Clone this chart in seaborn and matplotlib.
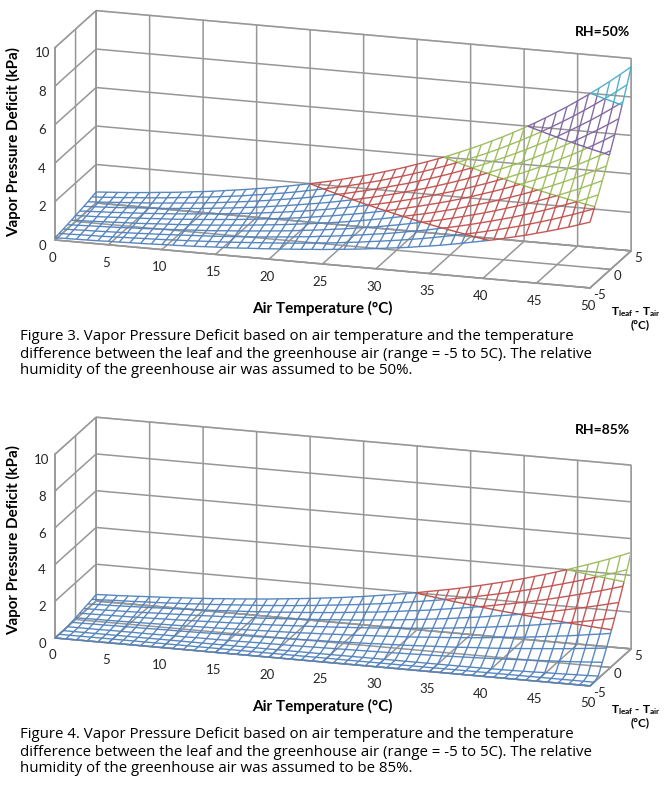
#!/usr/bin/env python
"""
Vapor pressure deficit wireframes for two greenhouse humidities.
Recreates the two Excel-style 3D surface charts (RH = 50% and RH = 85%)
with their figure captions and saves them to out.png.
"""

# --- Imports

import numpy as np
import seaborn as sns
import matplotlib
matplotlib.use('Agg')
import matplotlib.pyplot as plt
from mpl_toolkits.mplot3d import proj3d
from mpl_toolkits.mplot3d.art3d import Line3DCollection

# --- Data (VPD in kPa, one row per Tleaf - Tair step, one column per air temp)

air_temp = list(range(0, 51))
leaf_minus_air = [-5, -4, -3, -2, -1, 0, 1, 2, 3, 4, 5]

vpd_rh50 = [
    [0.12, 0.13, 0.14, 0.15, 0.16, 0.18, 0.19, 0.21, 0.22, 0.24,
     0.26, 0.28, 0.30, 0.32, 0.35, 0.38, 0.40, 0.43, 0.47, 0.50,
     0.54, 0.58, 0.62, 0.66, 0.71, 0.75, 0.81, 0.86, 0.92, 0.98,
     1.05, 1.12, 1.19, 1.26, 1.35, 1.43, 1.52, 1.62, 1.72, 1.83,
     1.94, 2.05, 2.18, 2.31, 2.44, 2.59, 2.74, 2.90, 3.06, 3.24, 3.42],
    [0.15, 0.16, 0.18, 0.19, 0.20, 0.22, 0.24, 0.26, 0.28, 0.30,
     0.32, 0.35, 0.37, 0.40, 0.43, 0.46, 0.49, 0.53, 0.57, 0.61,
     0.65, 0.69, 0.74, 0.79, 0.85, 0.90, 0.96, 1.03, 1.09, 1.17,
     1.24, 1.32, 1.40, 1.49, 1.58, 1.68, 1.79, 1.89, 2.01, 2.13,
     2.26, 2.39, 2.53, 2.67, 2.83, 2.99, 3.16, 3.34, 3.52, 3.72, 3.92],
    [0.18, 0.20, 0.22, 0.23, 0.25, 0.27, 0.29, 0.31, 0.34, 0.36,
     0.39, 0.42, 0.45, 0.48, 0.51, 0.55, 0.59, 0.63, 0.67, 0.72,
     0.77, 0.82, 0.88, 0.93, 1.00, 1.06, 1.13, 1.20, 1.28, 1.36,
     1.44, 1.53, 1.63, 1.73, 1.83, 1.95, 2.06, 2.18, 2.31, 2.45,
     2.59, 2.74, 2.89, 3.06, 3.23, 3.41, 3.60, 3.80, 4.00, 4.22, 4.45],
    [0.22, 0.24, 0.26, 0.28, 0.30, 0.32, 0.35, 0.37, 0.40, 0.43,
     0.46, 0.49, 0.53, 0.56, 0.60, 0.65, 0.69, 0.74, 0.79, 0.84,
     0.89, 0.95, 1.02, 1.08, 1.15, 1.23, 1.30, 1.39, 1.47, 1.56,
     1.66, 1.76, 1.87, 1.98, 2.10, 2.22, 2.35, 2.49, 2.63, 2.78,
     2.94, 3.11, 3.28, 3.46, 3.65, 3.85, 4.06, 4.28, 4.51, 4.75, 5.00],
    [0.26, 0.28, 0.30, 0.33, 0.35, 0.38, 0.40, 0.43, 0.47, 0.50,
     0.53, 0.57, 0.61, 0.65, 0.70, 0.75, 0.80, 0.85, 0.91, 0.97,
     1.03, 1.10, 1.17, 1.24, 1.32, 1.40, 1.49, 1.58, 1.68, 1.78,
     1.89, 2.00, 2.12, 2.24, 2.37, 2.51, 2.65, 2.81, 2.97, 3.13,
     3.31, 3.49, 3.68, 3.88, 4.09, 4.31, 4.54, 4.78, 5.03, 5.30, 5.57],
    [0.31, 0.33, 0.35, 0.38, 0.41, 0.44, 0.47, 0.50, 0.54, 0.57,
     0.61, 0.66, 0.70, 0.75, 0.80, 0.85, 0.91, 0.97, 1.03, 1.10,
     1.17, 1.24, 1.32, 1.41, 1.49, 1.59, 1.68, 1.78, 1.89, 2.00,
     2.12, 2.25, 2.38, 2.52, 2.66, 2.81, 2.97, 3.14, 3.32, 3.50,
     3.69, 3.89, 4.10, 4.32, 4.55, 4.80, 5.05, 5.31, 5.59, 5.87, 6.17],
    [0.35, 0.38, 0.41, 0.43, 0.47, 0.50, 0.53, 0.57, 0.61, 0.65,
     0.70, 0.75, 0.80, 0.85, 0.91, 0.97, 1.03, 1.10, 1.17, 1.24,
     1.32, 1.40, 1.49, 1.58, 1.68, 1.78, 1.89, 2.00, 2.12, 2.24,
     2.37, 2.51, 2.66, 2.81, 2.97, 3.13, 3.31, 3.49, 3.68, 3.88,
     4.09, 4.31, 4.54, 4.78, 5.04, 5.30, 5.57, 5.86, 6.16, 6.47, 6.80],
    [0.40, 0.43, 0.46, 0.49, 0.53, 0.57, 0.61, 0.65, 0.69, 0.74,
     0.79, 0.84, 0.90, 0.96, 1.02, 1.09, 1.15, 1.23, 1.31, 1.39,
     1.48, 1.57, 1.66, 1.76, 1.87, 1.98, 2.10, 2.22, 2.36, 2.49,
     2.64, 2.79, 2.94, 3.11, 3.29, 3.47, 3.66, 3.86, 4.07, 4.29,
     4.52, 4.75, 5.00, 5.27, 5.54, 5.83, 6.12, 6.44, 6.76, 7.10, 7.45],
    [0.45, 0.48, 0.52, 0.56, 0.60, 0.64, 0.68, 0.73, 0.78, 0.83,
     0.88, 0.94, 1.00, 1.07, 1.14, 1.21, 1.29, 1.37, 1.46, 1.55,
     1.64, 1.74, 1.85, 1.96, 2.07, 2.20, 2.33, 2.46, 2.61, 2.76,
     2.91, 3.08, 3.25, 3.43, 3.62, 3.82, 4.02, 4.24, 4.47, 4.71,
     4.96, 5.22, 5.49, 5.77, 6.07, 6.38, 6.70, 7.03, 7.38, 7.75, 8.13],
    [0.51, 0.54, 0.58, 0.62, 0.67, 0.71, 0.76, 0.81, 0.87, 0.92,
     0.99, 1.05, 1.12, 1.19, 1.26, 1.35, 1.43, 1.52, 1.61, 1.71,
     1.82, 1.93, 2.04, 2.16, 2.29, 2.42, 2.56, 2.71, 2.87, 3.03,
     3.20, 3.38, 3.57, 3.76, 3.97, 4.18, 4.41, 4.64, 4.89, 5.15,
     5.42, 5.70, 5.99, 6.30, 6.62, 6.95, 7.30, 7.66, 8.03, 8.42, 8.83],
    [0.57, 0.61, 0.65, 0.69, 0.74, 0.79, 0.85, 0.90, 0.96, 1.03,
     1.09, 1.16, 1.24, 1.32, 1.40, 1.49, 1.58, 1.68, 1.78, 1.89,
     2.00, 2.12, 2.24, 2.38, 2.52, 2.66, 2.81, 2.98, 3.14, 3.32,
     3.51, 3.70, 3.90, 4.11, 4.34, 4.57, 4.81, 5.07, 5.33, 5.61,
     5.90, 6.20, 6.52, 6.85, 7.19, 7.55, 7.92, 8.31, 8.71, 9.13, 9.57],
]

vpd_rh85 = [
    [0.00, 0.00, 0.00, 0.00, 0.00, 0.00, 0.00, 0.00, 0.00, 0.00,
     0.00, 0.00, 0.00, 0.00, 0.00, 0.00, 0.00, 0.00, 0.00, 0.00,
     0.00, 0.00, 0.00, 0.00, 0.00, 0.00, 0.00, 0.00, 0.00, 0.00,
     0.00, 0.00, 0.00, 0.00, 0.00, 0.00, 0.00, 0.00, 0.00, 0.00,
     0.00, 0.00, 0.00, 0.00, 0.00, 0.00, 0.00, 0.00, 0.00, 0.00, 0.00],
    [0.00, 0.00, 0.00, 0.00, 0.00, 0.00, 0.00, 0.00, 0.00, 0.00,
     0.00, 0.00, 0.00, 0.00, 0.00, 0.00, 0.00, 0.00, 0.00, 0.00,
     0.00, 0.00, 0.00, 0.00, 0.00, 0.00, 0.00, 0.00, 0.00, 0.00,
     0.00, 0.00, 0.00, 0.00, 0.00, 0.00, 0.00, 0.00, 0.00, 0.00,
     0.00, 0.00, 0.00, 0.00, 0.00, 0.00, 0.00, 0.00, 0.00, 0.00, 0.00],
    [0.00, 0.00, 0.00, 0.00, 0.00, 0.00, 0.00, 0.00, 0.00, 0.00,
     0.00, 0.00, 0.00, 0.00, 0.00, 0.00, 0.00, 0.00, 0.00, 0.00,
     0.00, 0.00, 0.00, 0.00, 0.00, 0.00, 0.00, 0.00, 0.00, 0.00,
     0.00, 0.00, 0.00, 0.00, 0.00, 0.00, 0.00, 0.00, 0.00, 0.00,
     0.01, 0.01, 0.02, 0.03, 0.04, 0.06, 0.07, 0.08, 0.10, 0.11, 0.13],
    [0.01, 0.01, 0.01, 0.01, 0.02, 0.02, 0.02, 0.02, 0.02, 0.03,
     0.03, 0.03, 0.04, 0.04, 0.04, 0.05, 0.05, 0.06, 0.07, 0.07,
     0.08, 0.08, 0.09, 0.10, 0.11, 0.12, 0.13, 0.14, 0.15, 0.16,
     0.17, 0.19, 0.20, 0.22, 0.23, 0.25, 0.27, 0.29, 0.31, 0.33,
     0.36, 0.38, 0.41, 0.44, 0.47, 0.50, 0.53, 0.56, 0.60, 0.64, 0.68],
    [0.05, 0.05, 0.06, 0.06, 0.07, 0.07, 0.08, 0.08, 0.09, 0.10,
     0.10, 0.11, 0.12, 0.13, 0.14, 0.15, 0.16, 0.17, 0.18, 0.20,
     0.21, 0.22, 0.24, 0.26, 0.27, 0.29, 0.31, 0.33, 0.35, 0.38,
     0.40, 0.42, 0.45, 0.48, 0.51, 0.54, 0.57, 0.61, 0.65, 0.68,
     0.72, 0.77, 0.81, 0.86, 0.91, 0.96, 1.01, 1.07, 1.13, 1.19, 1.25],
    [0.09, 0.10, 0.11, 0.11, 0.12, 0.13, 0.14, 0.15, 0.16, 0.17,
     0.18, 0.20, 0.21, 0.22, 0.24, 0.26, 0.27, 0.29, 0.31, 0.33,
     0.35, 0.37, 0.40, 0.42, 0.45, 0.48, 0.50, 0.54, 0.57, 0.60,
     0.64, 0.67, 0.71, 0.76, 0.80, 0.84, 0.89, 0.94, 0.99, 1.05,
     1.11, 1.17, 1.23, 1.30, 1.37, 1.44, 1.51, 1.59, 1.68, 1.76, 1.85],
    [0.14, 0.15, 0.16, 0.17, 0.18, 0.19, 0.21, 0.22, 0.24, 0.25,
     0.27, 0.29, 0.31, 0.33, 0.35, 0.37, 0.39, 0.42, 0.44, 0.47,
     0.50, 0.53, 0.56, 0.60, 0.63, 0.67, 0.71, 0.75, 0.79, 0.84,
     0.89, 0.94, 0.99, 1.04, 1.10, 1.16, 1.23, 1.29, 1.36, 1.44,
     1.51, 1.59, 1.67, 1.76, 1.85, 1.94, 2.04, 2.14, 2.25, 2.36, 2.48],
    [0.19, 0.20, 0.21, 0.23, 0.24, 0.26, 0.28, 0.30, 0.32, 0.34,
     0.36, 0.38, 0.41, 0.43, 0.46, 0.49, 0.52, 0.55, 0.59, 0.62,
     0.66, 0.70, 0.74, 0.78, 0.83, 0.87, 0.92, 0.98, 1.03, 1.09,
     1.15, 1.21, 1.28, 1.35, 1.42, 1.50, 1.58, 1.66, 1.75, 1.84,
     1.93, 2.03, 2.13, 2.24, 2.35, 2.47, 2.59, 2.72, 2.85, 2.99, 3.13],
    [0.24, 0.26, 0.27, 0.29, 0.31, 0.33, 0.35, 0.38, 0.40, 0.43,
     0.45, 0.48, 0.51, 0.55, 0.58, 0.61, 0.65, 0.69, 0.73, 0.78,
     0.82, 0.87, 0.92, 0.97, 1.03, 1.09, 1.15, 1.21, 1.28, 1.35,
     1.43, 1.50, 1.58, 1.67, 1.76, 1.85, 1.94, 2.04, 2.15, 2.26,
     2.37, 2.49, 2.61, 2.74, 2.88, 3.02, 3.17, 3.32, 3.47, 3.64, 3.81],
    [0.29, 0.31, 0.34, 0.36, 0.38, 0.41, 0.43, 0.46, 0.49, 0.52,
     0.56, 0.59, 0.63, 0.67, 0.71, 0.75, 0.79, 0.84, 0.89, 0.94,
     1.00, 1.05, 1.12, 1.18, 1.25, 1.31, 1.39, 1.46, 1.54, 1.63,
     1.72, 1.81, 1.90, 2.00, 2.11, 2.21, 2.33, 2.45, 2.57, 2.70,
     2.83, 2.97, 3.12, 3.27, 3.43, 3.59, 3.76, 3.94, 4.12, 4.31, 4.51],
    [0.35, 0.38, 0.40, 0.43, 0.46, 0.49, 0.52, 0.55, 0.59, 0.62,
     0.66, 0.70, 0.75, 0.79, 0.84, 0.89, 0.94, 1.00, 1.06, 1.12,
     1.18, 1.25, 1.32, 1.39, 1.47, 1.55, 1.64, 1.73, 1.82, 1.92,
     2.02, 2.13, 2.24, 2.35, 2.47, 2.60, 2.73, 2.87, 3.01, 3.16,
     3.31, 3.48, 3.64, 3.82, 4.00, 4.19, 4.39, 4.59, 4.80, 5.02, 5.25],
]

x_ticks = [0, 5, 10, 15, 20, 25, 30, 35, 40, 45, 50]
y_ticks = [-5, 0, 5]
y_tick_labels = ['-5', '0', '5']
z_ticks = [0, 2, 4, 6, 8, 10]
band_edges = [0, 2, 4, 6, 8, 10]
band_colors = ['#4F81BD', '#C0504D', '#9BBB59', '#8064A2', '#4BACC6']

captions = {
    'top': ["Figure 3. Vapor Pressure Deficit based on air temperature and the temperature",
            "difference between the leaf and the greenhouse air (range = -5 to 5C). The relative",
            "humidity of the greenhouse air was assumed to be 50%."],
    'bottom': ["Figure 4. Vapor Pressure Deficit based on air temperature and the temperature",
               "difference between the leaf and the greenhouse air (range = -5 to 5C). The relative",
               "humidity of the greenhouse air was assumed to be 85%."],
}

GRID = '#979797'
TEXT = '#262626'
FIG_W, FIG_H = 671, 800

# --- Helper functions

def split_segment(p, q):
    """
    Cut one mesh segment where it crosses a colour band edge.

    Return values
    -------------
    List of (segment, band index) pairs.
    """
    z0, z1 = p[2], q[2]
    cuts = [0.0, 1.0]
    for lv in band_edges[1:-1]:
        if (z0 - lv) * (z1 - lv) < 0:
            cuts.append((lv - z0) / (z1 - z0))
    cuts.sort()
    out = []
    for a, b in zip(cuts[:-1], cuts[1:]):
        pa = p + a * (q - p)
        pb = p + b * (q - p)
        band = min(int(((pa[2] + pb[2]) / 2) // 2), len(band_colors) - 1)
        out.append(([pa, pb], band))
    return out


def draw_mesh(ax, z_rows):
    """
    Draw the wireframe surface, coloured by 2 kPa bands like Excel does.
    """
    X, Y = np.meshgrid(air_temp, leaf_minus_air)
    Z = np.array(z_rows, dtype=float)
    pts = np.dstack([X, Y, Z]).astype(float)
    n_rows, n_cols = Z.shape

    pairs = []
    for i in range(n_rows):
        for j in range(n_cols - 1):
            pairs.append((pts[i, j], pts[i, j + 1]))
    for j in range(n_cols):
        for i in range(n_rows - 1):
            pairs.append((pts[i, j], pts[i + 1, j]))

    segs = {k: [] for k in range(len(band_colors))}
    for p, q in pairs:
        for seg, band in split_segment(p, q):
            segs[band].append(seg)

    for band, s in segs.items():
        if s:
            ax.add_collection3d(Line3DCollection(
                s, colors=band_colors[band], linewidths=1.0, alpha=0.95))

    levels = [lv for lv in band_edges[1:-1] if Z.max() > lv]
    if levels:
        ax.contour(X, Y, Z, levels=levels,
                   colors=band_colors[1:len(levels) + 1], linewidths=1.0)


def style_axes(ax, aspect):
    """
    Excel-like 3D box: white walls, grey grid, ortho view.
    """
    ax.set_facecolor((1, 1, 1, 0))
    ax.set_proj_type('ortho')
    ax.view_init(elev=16.5, azim=-72.5)
    ax.set_box_aspect(aspect)
    ax.set_xlim(0, 50)
    ax.set_ylim(-5, 5)
    ax.set_zlim(0, 10)
    ax.set_xticks(x_ticks)
    ax.set_yticks(y_ticks)
    ax.set_zticks(z_ticks)
    ax.zaxis.set_ticks_position('lower')
    ax.zaxis.set_label_position('lower')
    ax.grid(True)
    for axis in (ax.xaxis, ax.yaxis, ax.zaxis):
        axis.pane.set_facecolor('white')
        axis.pane.set_edgecolor(GRID)
        axis.pane.set_linewidth(1.1)
        axis.line.set_color(GRID)
        axis.line.set_linewidth(1.1)
        axis._axinfo['grid'].update(color=GRID, linewidth=1.1, linestyle='-')
        axis._axinfo['tick'].update(inward_factor=0.0, outward_factor=0.3)
        axis._axinfo['tick']['linewidth'] = {True: 1.1, False: 0.5}
    ax.xaxis.set_tick_params(labelsize=9.5, labelcolor=TEXT, color=GRID, pad=3.5)
    ax.yaxis.set_ticklabels([])
    ax.yaxis.set_tick_params(color=GRID)
    ax.zaxis.set_tick_params(labelsize=9.5, labelcolor=TEXT, color=GRID, pad=-3)


def project_px(ax, pt):
    """
    Pixel position (origin bottom-left) of a 3D data point.
    """
    x2, y2, _ = proj3d.proj_transform(pt[0], pt[1], pt[2], ax.get_proj())
    return np.array(ax.transData.transform((x2, y2)))


def fit_box(fig, ax, tgt_a, tgt_b):
    """
    Move/scale the square 3D axes so the front floor edge lands on the
    pixel positions taken from the reference picture.
    """
    fig.canvas.draw()
    pa = project_px(ax, (0, -5, 0))
    pb = project_px(ax, (50, -5, 0))
    ta = np.array([tgt_a[0], FIG_H - tgt_a[1]], dtype=float)
    tb = np.array([tgt_b[0], FIG_H - tgt_b[1]], dtype=float)
    s = np.linalg.norm(tb - ta) / np.linalg.norm(pb - pa)

    bb = ax.get_position().transformed(fig.transFigure)
    c = np.array([(bb.x0 + bb.x1) / 2, (bb.y0 + bb.y1) / 2])
    side = bb.width * s
    c_new = ta - s * (pa - c)
    ax.set_position([(c_new[0] - side / 2) / FIG_W, (c_new[1] - side / 2) / FIG_H,
                     side / FIG_W, side / FIG_H])


def depth_tick_labels(fig, ax):
    """
    Tleaf - Tair numbers just right of the right floor edge, as in Excel.
    """
    fig.canvas.draw()
    for yv, lab in zip(y_ticks, y_tick_labels):
        p = project_px(ax, (50.3, yv, -0.35))
        fig.text(p[0] / FIG_W, p[1] / FIG_H, lab, ha='left', va='center',
                 fontsize=9.5, color=TEXT)


def add_texts(fig, dy, rh_label, caption):
    """
    Axis titles, RH tag and caption placed in figure pixels (dy = panel shift).
    """
    def fy(y):
        return 1 - (y + dy) / FIG_H

    fig.text(14 / FIG_W, fy(142), 'Vapor Pressure Deficit (kPa)', rotation=90,
             ha='center', va='center', fontsize=10.9, fontweight='bold', color='black')
    fig.text(322 / FIG_W, fy(308), 'Air Temperature (°C)',
             ha='center', va='center', fontsize=11, fontweight='bold', color='black')
    fig.text(630 / FIG_W, fy(32), rh_label,
             ha='right', va='center', fontsize=10, fontweight='bold', color='black')
    fig.text(636 / FIG_W, fy(312), r'$\mathbf{T_{leaf}}$ - $\mathbf{T_{air}}$',
             ha='center', va='center', fontsize=8.5, fontweight='bold', color='black')
    fig.text(640 / FIG_W, fy(325), '(°C)',
             ha='center', va='center', fontsize=8.5, fontweight='bold', color='black')
    for k, line in enumerate(caption):
        fig.text(20 / FIG_W, fy(337 + 17 * k), line, ha='left', va='center',
                 fontsize=10.8, family=['Open Sans', 'DejaVu Sans'], color='black')

# --- Main program

def main():
    """
    Main program.
    """
    sns.set_theme(style='white')
    plt.rcParams['font.family'] = ['Lato', 'DejaVu Sans']
    plt.rcParams['mathtext.fontset'] = 'custom'
    plt.rcParams['mathtext.bf'] = 'Lato:bold'
    plt.rcParams['mathtext.rm'] = 'Lato'

    fig = plt.figure(figsize=(FIG_W / 100, FIG_H / 100), dpi=100)
    fig.patch.set_facecolor('white')

    panels = [
        (vpd_rh50, 0, 'RH=50%', captions['top'], (562, 137, 201)),
        (vpd_rh85, 398, 'RH=85%', captions['bottom'], (562, 137, 192)),
    ]

    for z_rows, dy, rh_label, caption, aspect in panels:
        ax = fig.add_axes([0.05, 0.05, 0.9, 0.9], projection='3d')
        style_axes(ax, aspect)
        draw_mesh(ax, z_rows)
        fit_box(fig, ax, (55, 240 + dy), (590, 288 + dy))
        depth_tick_labels(fig, ax)
        add_texts(fig, dy, rh_label, caption)

    fig.savefig('out.png', dpi=100, facecolor='white')


# --- Main script

if __name__ == '__main__':
    main()
